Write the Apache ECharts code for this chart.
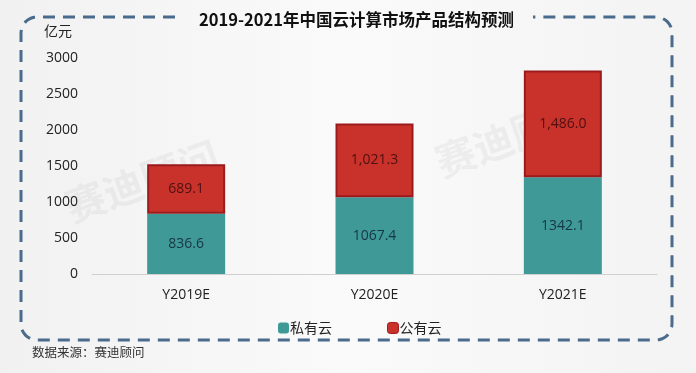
<!DOCTYPE html>
<html><head><meta charset="utf-8">
<script src="https://cdn.jsdelivr.net/npm/echarts@6/dist/echarts.min.js"></script>
<style>html,body{margin:0;padding:0;background:#fff}#c{width:696px;height:373px}</style>
</head><body><div id="c"></div>
<script>
var categories = ['Y2019E', 'Y2020E', 'Y2021E'];
var privateCloud = [836.6, 1067.4, 1342.1];
var publicCloud = [689.1, 1021.3, 1486.0];
var privateLabels = ['836.6', '1067.4', '1342.1'];
var publicLabels = ['689.1', '1,021.3', '1,486.0'];
var seriesNames = ['私有云', '公有云'];

var chart = echarts.init(document.getElementById('c'));
var FONT = '"Noto Sans CJK SC","Microsoft YaHei",sans-serif';

// decorative dashed rounded frame (with a gap for the title)
function corner(cx, cy, r, a0, a1, pts) {
  for (var i = 0; i <= 8; i++) {
    var a = a0 + (a1 - a0) * i / 8;
    pts.push([cx + r * Math.cos(a), cy + r * Math.sin(a)]);
  }
}
var L = 21, T = 17, R = 672, B = 340, RR = 16, PI = Math.PI;
var framePts = [[175, T]];
corner(L + RR, T + RR, RR, 1.5 * PI, PI, framePts);
corner(L + RR, B - RR, RR, PI, 0.5 * PI, framePts);
corner(R - RR, B - RR, RR, 0.5 * PI, 0, framePts);
corner(R - RR, T + RR, RR, 0, -0.5 * PI, framePts);
framePts.push([533, T]);

chart.setOption({
  backgroundColor: new echarts.graphic.LinearGradient(0, 0, 1, 0, [
    {offset: 0, color: '#f1f1f1'}, {offset: 0.5, color: '#fafafa'}, {offset: 1, color: '#f3f3f3'}
  ]),
  textStyle: {fontFamily: FONT},
  graphic: [
    {type: 'text', left: 60, top: 135, rotation: 0.35, z: 0,
     style: {text: '赛迪顾问', fill: 'rgba(120,120,120,0.08)', font: 'bold 40px "Noto Sans CJK SC"'}},
    {type: 'text', left: 430, top: 90, rotation: 0.35, z: 0,
     style: {text: '赛迪顾问', fill: 'rgba(120,120,120,0.08)', font: 'bold 40px "Noto Sans CJK SC"'}},
    {type: 'polyline', z: 1, shape: {points: framePts},
     style: {fill: null, stroke: '#4b6b8c', lineWidth: 3, lineDash: [12, 8]}},
    {type: 'text', left: 32, top: 346, z: 3,
     style: {text: '数据来源：赛迪顾问', fill: '#333', font: '12.5px "Noto Sans CJK SC"'}},
    {type: 'text', left: 44, top: 24, z: 3,
     style: {text: '亿元', fill: '#222', font: '14px "Noto Sans CJK SC"'}}
  ],
  title: {
    text: '2019-2021年中国云计算市场产品结构预测',
    left: 194, top: 6, z: 5,
    textStyle: {fontSize: 16.5, fontWeight: 'bold', color: '#111', fontFamily: FONT}
  },
  legend: {
    data: [{name: seriesNames[0]}, {name: seriesNames[1], itemStyle: {borderColor: '#a3181a', borderWidth: 1}}],
    left: 273, top: 316, itemWidth: 11, itemHeight: 11, itemGap: 55, icon: 'roundRect',
    textStyle: {fontSize: 14, color: '#222', padding: [0, 0, 0, -4]}
  },
  grid: {left: 92, right: 39, top: 58, bottom: 99},
  xAxis: {
    type: 'category', data: categories,
    axisLine: {lineStyle: {color: '#d0d0d0'}},
    axisTick: {show: false},
    axisLabel: {color: '#222', fontSize: 14, margin: 14, fontFamily: '"Open Sans",sans-serif'}
  },
  yAxis: {
    type: 'value', min: 0, max: 3000, interval: 500,
    splitLine: {show: false}, axisLine: {show: false}, axisTick: {show: false},
    axisLabel: {color: '#222', fontSize: 14, margin: 14, fontFamily: '"Open Sans",sans-serif',
      formatter: function (v) { return String(v); }}
  },
  series: [
    {name: seriesNames[0], type: 'bar', stack: 'a', data: privateCloud, barWidth: 78,
     itemStyle: {color: '#3f9a97'},
     label: {show: true, position: 'inside', color: '#183544', fontSize: 14,
       fontFamily: '"Open Sans",sans-serif',
       formatter: function (p) { return privateLabels[p.dataIndex]; }}},
    {name: seriesNames[1], type: 'bar', stack: 'a', data: publicCloud, barWidth: 78,
     itemStyle: {color: '#c8322a', borderColor: '#9b1a1c', borderWidth: 2},
     label: {show: true, position: 'inside', color: '#4f1010', fontSize: 14,
       fontFamily: '"Open Sans",sans-serif',
       formatter: function (p) { return publicLabels[p.dataIndex]; }}}
  ]
});
</script></body></html>
